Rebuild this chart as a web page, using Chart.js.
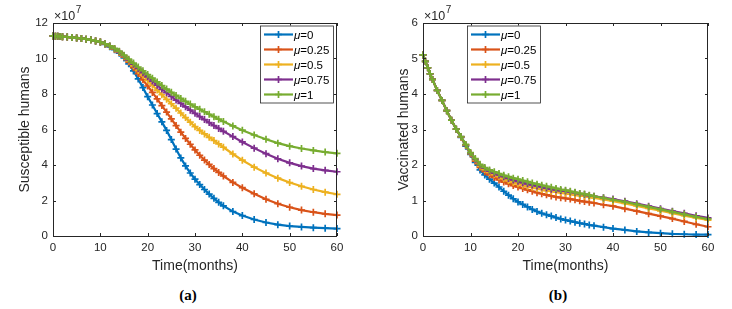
<!DOCTYPE html>
<html>
<head>
<meta charset="utf-8">
<script src="https://cdn.jsdelivr.net/npm/chart.js@4.4.1/dist/chart.umd.min.js"></script>
<style>
body { margin: 0; background: #fff; width: 732px; height: 309px; overflow: hidden; position: relative; }
canvas { position: absolute; top: 0; }
#chartS { left: 0; }
#chartV { left: 366px; }
.cap { position: absolute; top: 287px; font: bold 15px "Liberation Serif", serif; color: #000; transform: translateX(-50%); }
</style>
</head>
<body>
<canvas id="chartS" width="366" height="280"></canvas>
<canvas id="chartV" width="366" height="280"></canvas>
<div class="cap" style="left:188px">(a)</div>
<div class="cap" style="left:558px">(b)</div>
<script>
"use strict";
// time in months
const months = [0, 0.5, 1, 1.5, 2, 3, 4, 5, 6, 7, 8, 9, 10, 11, 12, 13, 14, 15, 16, 17, 18, 19, 20, 21, 22, 23, 24, 25, 26, 27, 28, 29, 30, 31, 32, 33, 34, 35, 36, 38, 40, 42.5, 45, 47.5, 50, 52.5, 55, 57.5, 60];
const muLabels = ["=0", "=0.25", "=0.5", "=0.75", "=1"];
const muColors = ["#0072BD", "#D95319", "#EDB120", "#7E2F8E", "#77AC30"];
const xTicks = [0, 10, 20, 30, 40, 50, 60];

// susceptible humans (x 10^7)
const susMu0 = [11.27, 11.26, 11.25, 11.24, 11.23, 11.21, 11.19, 11.16, 11.13, 11.09, 11.05, 10.99, 10.92, 10.8, 10.66, 10.5, 10.3, 10.03, 9.7, 9.3, 8.85, 8.36, 7.85, 7.38, 6.9, 6.43, 5.95, 5.43, 4.9, 4.4, 3.95, 3.55, 3.2, 2.9, 2.62, 2.36, 2.12, 1.9, 1.7, 1.38, 1.15, 0.93, 0.76, 0.64, 0.56, 0.51, 0.47, 0.44, 0.42];
const susMu025 = [11.27, 11.26, 11.25, 11.24, 11.23, 11.21, 11.19, 11.16, 11.13, 11.09, 11.05, 10.99, 10.93, 10.82, 10.68, 10.52, 10.34, 10.09, 9.8, 9.48, 9.15, 8.8, 8.45, 8.09, 7.72, 7.35, 6.98, 6.6, 6.22, 5.85, 5.5, 5.17, 4.85, 4.55, 4.28, 4.03, 3.8, 3.58, 3.38, 3.02, 2.72, 2.38, 2.07, 1.82, 1.62, 1.46, 1.34, 1.25, 1.18];
const susMu05 = [11.27, 11.26, 11.25, 11.24, 11.23, 11.21, 11.19, 11.16, 11.13, 11.09, 11.05, 10.99, 10.93, 10.82, 10.69, 10.54, 10.37, 10.12, 9.86, 9.59, 9.32, 9.05, 8.77, 8.5, 8.22, 7.96, 7.7, 7.45, 7.2, 6.93, 6.67, 6.41, 6.16, 5.95, 5.75, 5.56, 5.38, 5.19, 5.0, 4.62, 4.27, 3.88, 3.55, 3.26, 3.01, 2.8, 2.62, 2.47, 2.35];
const susMu075 = [11.27, 11.26, 11.25, 11.24, 11.23, 11.21, 11.19, 11.16, 11.13, 11.09, 11.05, 10.99, 10.93, 10.83, 10.7, 10.55, 10.39, 10.16, 9.92, 9.68, 9.44, 9.2, 8.97, 8.73, 8.5, 8.28, 8.07, 7.86, 7.66, 7.47, 7.28, 7.09, 6.91, 6.73, 6.56, 6.39, 6.22, 6.06, 5.9, 5.6, 5.3, 4.95, 4.64, 4.35, 4.12, 3.94, 3.8, 3.7, 3.62];
const susMu1 = [11.27, 11.26, 11.25, 11.24, 11.23, 11.21, 11.19, 11.16, 11.13, 11.09, 11.05, 10.99, 10.93, 10.83, 10.71, 10.57, 10.41, 10.19, 9.96, 9.74, 9.52, 9.31, 9.1, 8.89, 8.68, 8.48, 8.28, 8.1, 7.92, 7.75, 7.59, 7.43, 7.28, 7.14, 7.0, 6.86, 6.72, 6.58, 6.45, 6.2, 5.96, 5.69, 5.45, 5.23, 5.06, 4.93, 4.82, 4.73, 4.66];

// vaccinated humans (x 10^7)
const vacMu0 = [5.1, 4.92, 4.74, 4.57, 4.41, 4.1, 3.82, 3.53, 3.26, 3.01, 2.78, 2.53, 2.3, 2.07, 1.86, 1.72, 1.6, 1.49, 1.38, 1.26, 1.15, 1.05, 0.96, 0.89, 0.82, 0.75, 0.69, 0.64, 0.6, 0.56, 0.52, 0.48, 0.45, 0.42, 0.39, 0.36, 0.34, 0.31, 0.29, 0.25, 0.21, 0.17, 0.13, 0.1, 0.08, 0.06, 0.05, 0.04, 0.04];
const vacMu025 = [5.1, 4.92, 4.74, 4.57, 4.41, 4.1, 3.82, 3.53, 3.26, 3.01, 2.79, 2.55, 2.32, 2.11, 1.93, 1.81, 1.72, 1.65, 1.58, 1.52, 1.47, 1.42, 1.38, 1.34, 1.3, 1.26, 1.22, 1.19, 1.16, 1.13, 1.1, 1.08, 1.06, 1.04, 1.02, 0.99, 0.97, 0.95, 0.93, 0.88, 0.84, 0.77, 0.7, 0.63, 0.56, 0.49, 0.41, 0.33, 0.26];
const vacMu05 = [5.1, 4.92, 4.74, 4.57, 4.41, 4.1, 3.82, 3.53, 3.26, 3.01, 2.79, 2.56, 2.33, 2.14, 1.97, 1.87, 1.79, 1.73, 1.67, 1.61, 1.56, 1.51, 1.47, 1.43, 1.4, 1.37, 1.34, 1.31, 1.28, 1.26, 1.24, 1.22, 1.2, 1.18, 1.16, 1.14, 1.12, 1.1, 1.07, 1.03, 0.98, 0.92, 0.85, 0.78, 0.71, 0.64, 0.57, 0.51, 0.45];
const vacMu075 = [5.1, 4.92, 4.74, 4.57, 4.41, 4.1, 3.82, 3.53, 3.26, 3.01, 2.8, 2.57, 2.34, 2.16, 2.0, 1.91, 1.83, 1.77, 1.72, 1.67, 1.62, 1.58, 1.54, 1.5, 1.47, 1.44, 1.41, 1.38, 1.35, 1.32, 1.3, 1.28, 1.27, 1.24, 1.22, 1.19, 1.17, 1.14, 1.12, 1.08, 1.04, 0.98, 0.91, 0.84, 0.77, 0.7, 0.64, 0.57, 0.51];
const vacMu1 = [5.1, 4.92, 4.74, 4.57, 4.41, 4.1, 3.82, 3.53, 3.26, 3.01, 2.8, 2.58, 2.35, 2.18, 2.02, 1.93, 1.86, 1.81, 1.76, 1.71, 1.67, 1.63, 1.6, 1.56, 1.53, 1.49, 1.46, 1.43, 1.4, 1.37, 1.34, 1.31, 1.29, 1.26, 1.23, 1.2, 1.18, 1.15, 1.12, 1.07, 1.02, 0.96, 0.89, 0.82, 0.75, 0.68, 0.61, 0.54, 0.48];

const axisColor = "#262626";
const tickFont = { family: "'Liberation Sans', Arial, sans-serif", size: 11.5 };
const titleFont = { family: "'Liberation Sans', Arial, sans-serif", size: 14 };

function makeDatasets(seriesList) {
    return seriesList.map((vals, i) => ({
        label: "\u03bc" + muLabels[i],
        data: vals.map((v, k) => ({ x: months[k], y: v })),
        borderColor: muColors[i],
        backgroundColor: muColors[i],
        borderWidth: 2.2,
        pointStyle: "cross",
        pointRadius: 3.5,
        pointBorderWidth: 1.7,
        pointHoverRadius: 3.5,
        tension: 0,
        clip: false,
        order: 4 - i
    }));
}

// box, inward ticks, exponent label and the inside legend
const framePlugin = {
    id: "frame",
    afterDatasetsDraw(chart, args, opts) {
        const { ctx, chartArea: a, scales: { x, y } } = chart;
        ctx.save();
        ctx.strokeStyle = axisColor;
        ctx.lineWidth = 1;
        ctx.strokeRect(a.left + 0.5, a.top + 0.5, a.right - a.left - 1, a.bottom - a.top);
        ctx.beginPath();
        x.ticks.forEach(t => {
            const px = Math.round(x.getPixelForValue(t.value)) + 0.5;
            ctx.moveTo(px, a.bottom); ctx.lineTo(px, a.bottom - 3);
            ctx.moveTo(px, a.top); ctx.lineTo(px, a.top + 3);
        });
        y.ticks.forEach(t => {
            const py = Math.round(y.getPixelForValue(t.value)) + 0.5;
            ctx.moveTo(a.left, py); ctx.lineTo(a.left + 3, py);
            ctx.moveTo(a.right, py); ctx.lineTo(a.right - 3, py);
        });
        ctx.stroke();

        // x 10^7
        ctx.fillStyle = axisColor;
        ctx.textBaseline = "alphabetic";
        ctx.font = "12.5px 'Liberation Sans', Arial, sans-serif";
        ctx.fillText("\u00d710", a.left + 1, a.top - 3);
        const w = ctx.measureText("\u00d710").width;
        ctx.font = "10px 'Liberation Sans', Arial, sans-serif";
        ctx.fillText("7", a.left + 1 + w + 0.5, a.top - 10);

        // legend
        const lx = opts.side === "right" ? a.right - 77 : a.left + 44;
        const ly = a.top + 2.5;
        ctx.fillStyle = "#fff";
        ctx.fillRect(lx, ly, 73, 77);
        ctx.lineWidth = 0.8;
        ctx.strokeRect(lx + 0.5, ly + 0.5, 73, 77);
        chart.data.datasets.forEach((ds, i) => {
            const cy = ly + 9 + i * 15;
            ctx.strokeStyle = ds.borderColor;
            ctx.lineWidth = 2.2;
            ctx.beginPath();
            ctx.moveTo(lx + 4, cy); ctx.lineTo(lx + 33, cy);
            ctx.stroke();
            ctx.lineWidth = 1.7;
            ctx.beginPath();
            ctx.moveTo(lx + 18.5 - 3.5, cy); ctx.lineTo(lx + 18.5 + 3.5, cy);
            ctx.moveTo(lx + 18.5, cy - 3.5); ctx.lineTo(lx + 18.5, cy + 3.5);
            ctx.stroke();
            ctx.fillStyle = "#000";
            ctx.textBaseline = "middle";
            ctx.font = "italic 11.5px 'Liberation Sans', Arial, sans-serif";
            const mu = ds.label.charAt(0);
            ctx.fillText(mu, lx + 34, cy + 1);
            const mw = ctx.measureText(mu).width;
            ctx.font = "11.5px 'Liberation Sans', Arial, sans-serif";
            ctx.fillText(ds.label.slice(1), lx + 34 + mw, cy + 1);
        });
        ctx.restore();
    }
};

function makeChart(canvasId, seriesList, yMax, yStep, yTitle, padLeft, padRight, legendSide) {
    const cfg = {
        type: "line",
        data: { datasets: makeDatasets(seriesList) },
        options: {
            responsive: false,
            animation: false,
            events: [],
            layout: { padding: { left: padLeft, right: padRight, top: 23, bottom: 0 } },
            plugins: { legend: { display: false }, tooltip: { enabled: false }, frame: { side: legendSide } },
            scales: {
                x: {
                    type: "linear", min: 0, max: 60,
                    afterBuildTicks: s => { s.ticks = xTicks.map(v => ({ value: v })); },
                    afterFit: s => { s.height = 44; },
                    grid: { display: false, drawTicks: false },
                    border: { display: false },
                    ticks: { color: axisColor, font: tickFont, padding: 5, maxRotation: 0 },
                    title: { display: true, text: "Time(months)", color: axisColor, font: titleFont, padding: { top: 0, bottom: 5 } }
                },
                y: {
                    type: "linear", min: 0, max: yMax,
                    afterFit: s => { s.width = (canvasId === "chartS" ? 53 : 57) - padLeft; },
                    grid: { display: false, drawTicks: false },
                    border: { display: false },
                    ticks: { color: axisColor, font: tickFont, padding: 5, stepSize: yStep },
                    title: { display: true, text: yTitle, color: axisColor, font: titleFont, padding: { top: 0, bottom: 0 } }
                }
            }
        },
        plugins: [framePlugin]
    };
    return new Chart(document.getElementById(canvasId), cfg);
}

makeChart("chartS", [susMu0, susMu025, susMu05, susMu075, susMu1], 12, 2, "Susceptible humans", 17, 29, "right");
makeChart("chartV", [vacMu0, vacMu025, vacMu05, vacMu075, vacMu1], 6, 1, "Vaccinated humans", 30, 24, "left");
</script>
</body>
</html>
